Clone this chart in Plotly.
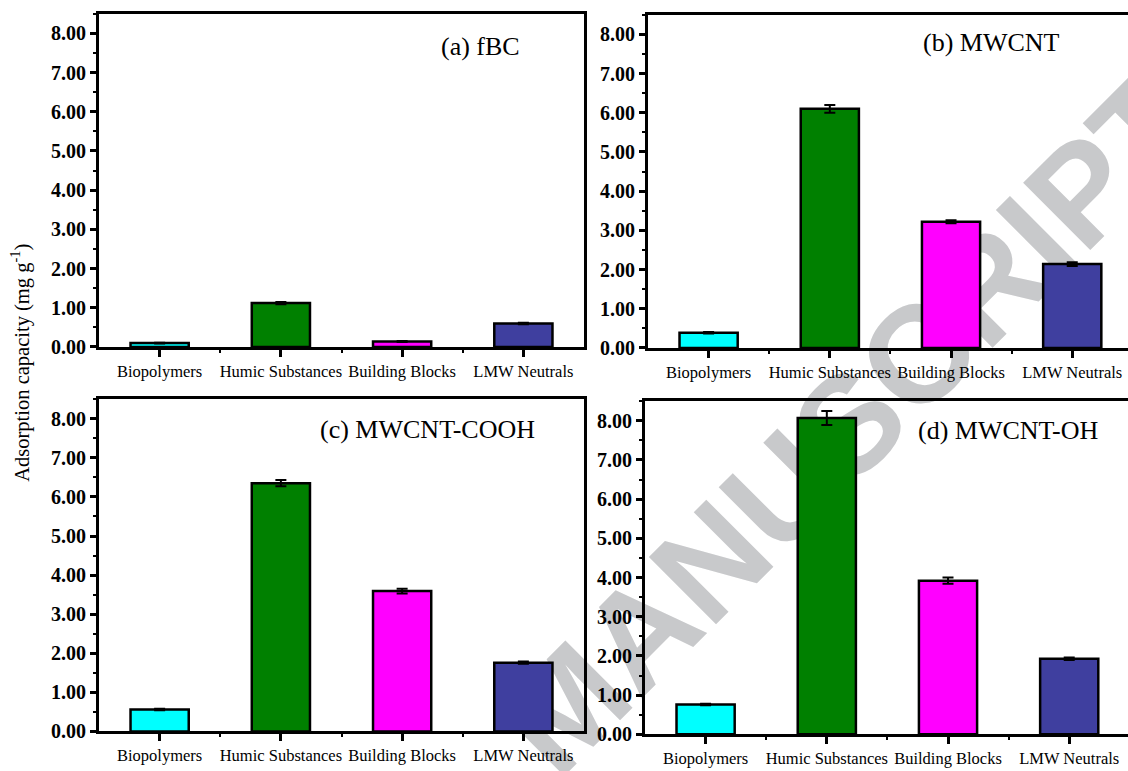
import numpy as np
import plotly.graph_objects as go

# ---- data -------------------------------------------------------------
categories = ["Biopolymers", "Humic Substances", "Building Blocks", "LMW Neutrals"]
bar_colors = ["#00FFFF", "#008000", "#FF00FF", "#3F3F9F"]

fbc_vals = [0.10, 1.12, 0.14, 0.60]
fbc_err = [0.01, 0.03, 0.01, 0.02]

mwcnt_vals = [0.39, 6.10, 3.22, 2.14]
mwcnt_err = [0.02, 0.10, 0.04, 0.05]

cooh_vals = [0.56, 6.35, 3.59, 1.76]
cooh_err = [0.02, 0.08, 0.06, 0.03]

oh_vals = [0.76, 8.07, 3.92, 1.93]
oh_err = [0.02, 0.18, 0.08, 0.03]

panel_titles = ["(a) fBC", "(b) MWCNT", "(c) MWCNT-COOH", "(d) MWCNT-OH"]
y_title = "Adsorption capacity (mg g<sup>-1</sup>)"
y_ticks = [0, 1, 2, 3, 4, 5, 6, 7, 8]

# ---- layout helpers ----------------------------------------------------
W, H = 1128, 771
SERIF = "Times New Roman, Liberation Serif, serif"


def fx(p):
    return p / W


def fy(p):
    return 1 - p / H


# pixel boxes (left, right, top, bottom), x-range, whether a right frame line is drawn,
# and title anchor position
panels = [
    dict(vals=fbc_vals, err=fbc_err, box=(99, 584, 14, 352), xr=[-0.5, 3.5], right=True, tpos=(480, 47)),
    dict(vals=mwcnt_vals, err=mwcnt_err, box=(648, 1128, 15, 353), xr=[-0.5, 3.46], right=False, tpos=(991, 43)),
    dict(vals=cooh_vals, err=cooh_err, box=(99, 584, 405, 742), xr=[-0.5, 3.5], right=True, tpos=(427, 436)),
    dict(vals=oh_vals, err=oh_err, box=(645, 1128, 407, 745), xr=[-0.5, 3.485], right=False, tpos=(1008, 437)),
]

xpos = np.arange(len(categories))

fig = go.Figure()
layout = dict(
    width=W,
    height=H,
    margin=dict(l=0, r=0, t=0, b=0),
    paper_bgcolor="white",
    plot_bgcolor="rgba(0,0,0,0)",
    showlegend=False,
    annotations=[],
)

for i, p in enumerate(panels, start=1):
    sx = "" if i == 1 else str(i)
    fig.add_trace(
        go.Bar(
            x=xpos,
            y=p["vals"],
            width=0.48,
            marker=dict(color=bar_colors, line=dict(color="black", width=2.5)),
            error_y=dict(type="data", array=p["err"], color="black", thickness=2, width=5.5),
            xaxis="x" + sx,
            yaxis="y" + sx,
        )
    )
    l, r, t, b = p["box"]
    layout["xaxis" + sx] = dict(
        domain=[fx(l), fx(r)],
        anchor="y" + sx,
        range=p["xr"],
        tickmode="array",
        tickvals=list(xpos),
        ticktext=categories,
        ticks="outside",
        ticklen=7,
        tickwidth=2.5,
        tickcolor="black",
        showline=True,
        linecolor="black",
        linewidth=3,
        mirror=True,
        showgrid=False,
        zeroline=False,
        tickfont=dict(family=SERIF, size=16.5, color="black"),
        minor=dict(tickmode="array", tickvals=[0.5, 1.5, 2.5], ticks="outside",
                   ticklen=3, tickwidth=2, tickcolor="black", showgrid=False),
    )
    layout["yaxis" + sx] = dict(
        domain=[fy(b), fy(t)],
        anchor="x" + sx,
        range=[0, 8.5],
        tickmode="array",
        tickvals=y_ticks,
        tickformat=".2f",
        ticks="outside",
        ticklen=6,
        tickwidth=2.5,
        tickcolor="black",
        showline=True,
        linecolor="black",
        linewidth=3,
        mirror=p["right"],
        showgrid=False,
        zeroline=False,
        tickfont=dict(family=SERIF, size=20, color="black", weight="bold"),
        minor=dict(dtick=0.5, tick0=0, ticks="outside", ticklen=3, tickwidth=2,
                   tickcolor="black", showgrid=False),
    )
    tx, ty = p["tpos"]
    layout["annotations"].append(
        dict(text=panel_titles[i - 1], xref="paper", yref="paper", x=fx(tx), y=fy(ty),
             xanchor="center", yanchor="middle", showarrow=False,
             font=dict(family=SERIF, size=26, color="black"))
    )

# shared y-axis title
layout["annotations"].append(
    dict(text=y_title, xref="paper", yref="paper", x=fx(21), y=fy(368),
         xanchor="center", yanchor="middle", textangle=-90, showarrow=False,
         font=dict(family=SERIF, size=20.5, color="black"))
)

fig.update_layout(**layout)

# faint diagonal stamp behind the bars
cx, cy = fx(840), fy(420)
fig.add_shape(
    type="rect", xref="paper", yref="paper",
    x0=cx - 0.001, x1=cx + 0.001, y0=cy - 0.001, y1=cy + 0.001,
    line=dict(width=0), fillcolor="rgba(0,0,0,0)", layer="below",
    label=dict(text="MANUSCRIPT", textangle=-45, textposition="middle center",
               font=dict(family="Liberation Sans, Arial, sans-serif", size=138,
                         color="#c8c9cb", weight="bold")),
)

fig.write_html("out.html")
